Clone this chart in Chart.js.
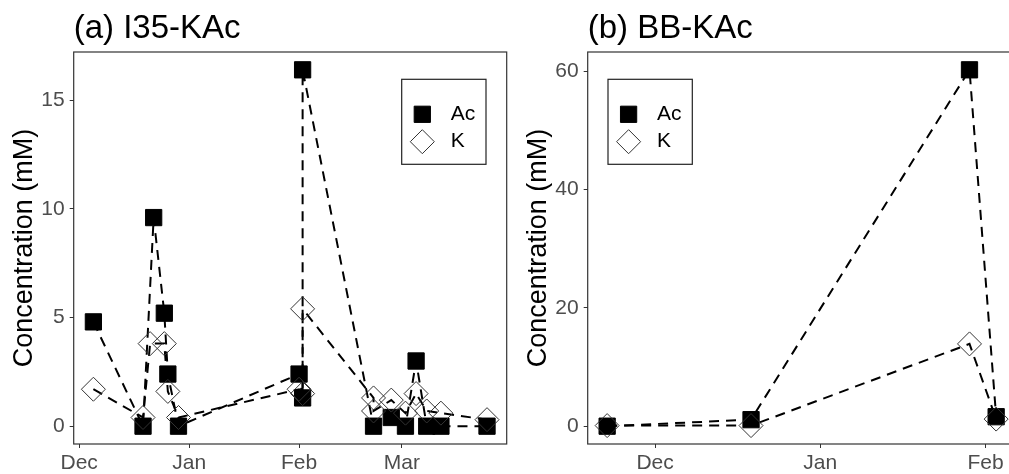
<!DOCTYPE html>
<html>
<head>
    <meta charset="UTF-8">
    <title>Concentration</title>
    <script src="https://cdn.jsdelivr.net/npm/chart.js@4.4.1/dist/chart.umd.min.js"></script>
    <style>
        body { margin: 0; width: 1009px; height: 474px; overflow: hidden; background: #fff; }
        .panel { position: absolute; top: 0; }
    </style>
</head>
<body>
    <div class="panel" style="left:0"><canvas id="chartA" width="520" height="474"></canvas></div>
    <div class="panel" style="left:520px"><canvas id="chartB" width="520" height="474"></canvas></div>

<script>
    // (a) I35-KAc
    var i35AcDates = ['2019-12-05', '2019-12-19', '2019-12-22', '2019-12-25', '2019-12-26', '2019-12-29',
        '2020-02-01', '2020-02-02', '2020-02-02', '2020-02-22', '2020-02-27', '2020-03-02', '2020-03-05',
        '2020-03-08', '2020-03-12', '2020-03-25'];
    var i35AcValues = [4.8, 0, 9.6, 5.2, 2.4, 0, 2.4, 1.3, 16.4, 0, 0.4, 0, 3.0, 0, 0, 0];
    var i35KDates = ['2019-12-05', '2019-12-19', '2019-12-21', '2019-12-25', '2019-12-26', '2019-12-29',
        '2020-02-01', '2020-02-02', '2020-02-02', '2020-02-22', '2020-02-22', '2020-02-27', '2020-03-02',
        '2020-03-05', '2020-03-08', '2020-03-12', '2020-03-25'];
    var i35KValues = [1.7, 0.4, 3.8, 3.8, 1.6, 0.4, 1.7, 1.5, 5.4, 1.3, 0.7, 1.2, 0.6, 1.5, 0.7, 0.6, 0.3];
    var i35MonthDates = ['2019-12-01', '2020-01-01', '2020-02-01', '2020-03-01'];
    var i35MonthLabels = ['Dec', 'Jan', 'Feb', 'Mar'];
    var i35YTicks = [0, 5, 10, 15];

    // (b) BB-KAc
    var bbDates = ['2020-11-22', '2020-12-19', '2021-01-29', '2021-02-03'];
    var bbAcValues = [0, 1.1, 60.2, 1.6];
    var bbKValues = [0.1, 0.1, 13.9, 1.2];
    var bbMonthDates = ['2020-12-01', '2021-01-01', '2021-02-01'];
    var bbMonthLabels = ['Dec', 'Jan', 'Feb'];
    var bbYTicks = [0, 20, 40, 60];

    var FONT = '"Liberation Sans", Arial, sans-serif';

    function dayNum(s) {
        var p = s.split('-');
        return Date.UTC(+p[0], +p[1] - 1, +p[2]) / 86400000;
    }

    function points(dates, values) {
        return dates.map(function (d, i) { return { x: dayNum(d), y: values[i] }; });
    }

    // ggplot-style 5% expansion
    function expand(vals) {
        var lo = Math.min.apply(null, vals), hi = Math.max.apply(null, vals);
        var pad = (hi - lo) * 0.05;
        return [lo - pad, hi + pad];
    }

    var acStyle = {
        label: 'Ac',
        borderColor: '#000',
        borderWidth: 2,
        borderDash: [10, 7],
        pointStyle: 'rect',
        pointRadius: 11.5,
        pointBackgroundColor: '#000',
        pointBorderColor: '#000',
        pointBorderWidth: 1,
        fill: false,
        tension: 0
    };
    var kStyle = {
        label: 'K',
        borderColor: '#000',
        borderWidth: 2,
        borderDash: [10, 7],
        pointStyle: 'rectRot',
        pointRadius: 12,
        pointBackgroundColor: 'rgba(0,0,0,0)',
        pointBorderColor: '#333',
        pointBorderWidth: 1,
        fill: false,
        tension: 0
    };

    // panel frame, title and legend box
    var panelDeco = {
        id: 'panelDeco',
        afterDraw: function (chart, args, opts) {
            var a = chart.chartArea, ctx = chart.ctx;
            ctx.save();
            ctx.strokeStyle = '#333';
            ctx.lineWidth = 1.2;
            ctx.strokeRect(a.left, a.top, a.right - a.left, a.bottom - a.top);

            ctx.fillStyle = '#000';
            ctx.font = '33px ' + FONT;
            ctx.textAlign = 'left';
            ctx.textBaseline = 'alphabetic';
            ctx.fillText(opts.title, a.left, 38);

            var bw = 84.3, bh = 85;
            var bx = opts.legendLeft ? a.left + 20.3 : a.right - 20.7 - bw;
            var by = a.top + 27.3;
            ctx.strokeStyle = '#222';
            ctx.lineWidth = 1.2;
            ctx.strokeRect(bx, by, bw, bh);

            var kx = bx + 20.6;
            ctx.fillStyle = '#000';
            ctx.strokeStyle = '#000';
            ctx.lineWidth = 1;
            Chart.helpers.drawPoint(ctx, { pointStyle: 'rect', radius: 11.5, borderWidth: 1 }, kx, by + 35);
            ctx.fillStyle = 'rgba(0,0,0,0)';
            ctx.strokeStyle = '#333';
            Chart.helpers.drawPoint(ctx, { pointStyle: 'rectRot', radius: 12, borderWidth: 1 }, kx, by + 62.4);

            ctx.fillStyle = '#000';
            ctx.font = '21px ' + FONT;
            ctx.textBaseline = 'middle';
            ctx.fillText('Ac', bx + 49, by + 35);
            ctx.fillText('K', bx + 49, by + 62.4);
            ctx.restore();
        }
    };

    function makeChart(id, cfg) {
        var xr = expand(cfg.ac.concat(cfg.k).map(function (p) { return p.x; }));
        var yr = expand(cfg.ac.concat(cfg.k).map(function (p) { return p.y; }));
        return new Chart(document.getElementById(id), {
            type: 'line',
            data: {
                datasets: [
                    Object.assign({ data: cfg.k }, kStyle),
                    Object.assign({ data: cfg.ac }, acStyle)
                ]
            },
            options: {
                responsive: false,
                animation: false,
                events: [],
                layout: { padding: { left: 0, top: 52, right: cfg.padRight, bottom: 0 } },
                plugins: {
                    legend: { display: false },
                    tooltip: { enabled: false },
                    panelDeco: { title: cfg.title, legendLeft: cfg.legendLeft }
                },
                scales: {
                    x: {
                        type: 'linear',
                        min: xr[0],
                        max: xr[1],
                        afterBuildTicks: function (scale) {
                            scale.ticks = cfg.monthDates.map(function (d) { return { value: dayNum(d) }; });
                        },
                        afterFit: function (scale) { scale.height = 30; },
                        ticks: {
                            callback: function (v, i) { return cfg.monthLabels[i]; },
                            color: '#4D4D4D',
                            font: { family: FONT, size: 21 },
                            padding: 3,
                            maxRotation: 0
                        },
                        grid: { display: true, drawOnChartArea: false, drawTicks: true, tickLength: 4, color: '#333' },
                        border: { display: false }
                    },
                    y: {
                        type: 'linear',
                        min: yr[0],
                        max: yr[1],
                        afterBuildTicks: function (scale) {
                            scale.ticks = cfg.yTicks.map(function (v) { return { value: v }; });
                        },
                        afterFit: function (scale) { scale.width = cfg.axisLeft; },
                        ticks: {
                            color: '#4D4D4D',
                            font: { family: FONT, size: 21 },
                            padding: 5
                        },
                        grid: { display: true, drawOnChartArea: false, drawTicks: true, tickLength: 4, color: '#333' },
                        border: { display: false },
                        title: {
                            display: true,
                            text: 'Concentration (mM)',
                            color: '#000',
                            font: { family: FONT, size: 27 },
                            padding: { top: cfg.titlePad, bottom: 0 }
                        }
                    }
                }
            },
            plugins: [panelDeco]
        });
    }

    makeChart('chartA', {
        title: '(a) I35-KAc',
        ac: points(i35AcDates, i35AcValues),
        k: points(i35KDates, i35KValues),
        monthDates: i35MonthDates,
        monthLabels: i35MonthLabels,
        yTicks: i35YTicks,
        axisLeft: 73.7,
        padRight: 13.3,
        titlePad: 8.3,
        legendLeft: false
    });

    makeChart('chartB', {
        title: '(b) BB-KAc',
        ac: points(bbDates, bbAcValues),
        k: points(bbDates, bbKValues),
        monthDates: bbMonthDates,
        monthLabels: bbMonthLabels,
        yTicks: bbYTicks,
        axisLeft: 67.7,
        padRight: 24.4,
        titlePad: 2.3,
        legendLeft: true
    });
</script>
</body>
</html>
